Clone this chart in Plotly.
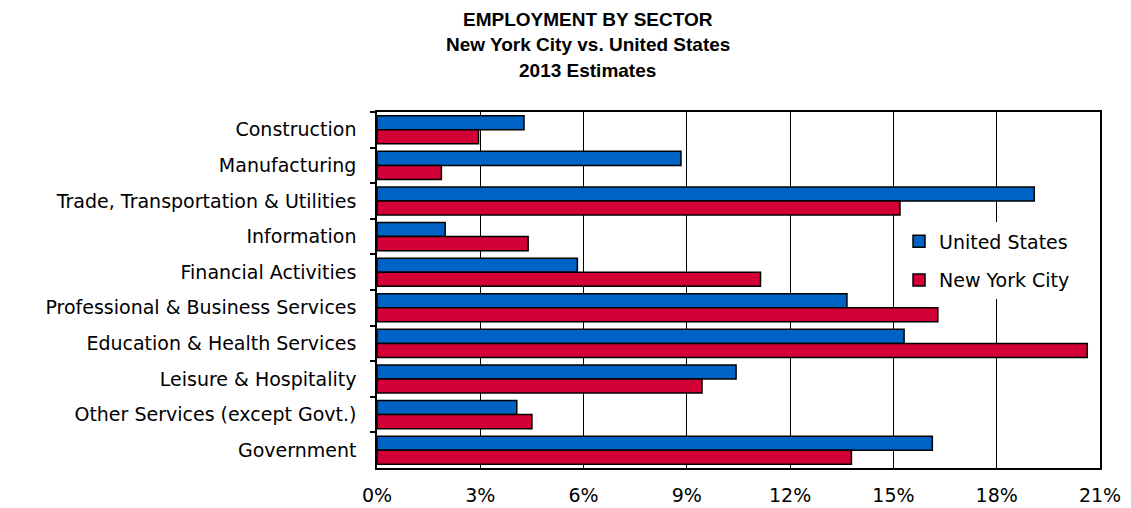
import plotly.graph_objects as go

categories = [
    "Construction",
    "Manufacturing",
    "Trade, Transportation & Utilities",
    "Information",
    "Financial Activities",
    "Professional & Business Services",
    "Education & Health Services",
    "Leisure & Hospitality",
    "Other Services (except Govt.)",
    "Government",
]
us_values = [4.27, 8.83, 19.09, 1.98, 5.82, 13.65, 15.31, 10.43, 4.06, 16.13]
nyc_values = [2.95, 1.87, 15.19, 4.39, 11.14, 16.29, 20.63, 9.44, 4.50, 13.78]
x_ticks = [0, 3, 6, 9, 12, 15, 18, 21]
x_tick_labels = [f"{t}%" for t in x_ticks]
title_lines = ["EMPLOYMENT BY SECTOR", "New York City vs. United States", "2013 Estimates"]

FONT = "DejaVu Sans"
TFONT = "Liberation Sans"

fig = go.Figure()
fig.add_trace(go.Bar(
    y=categories, x=us_values, orientation="h", name="United States",
    legendgroup="us",
    marker=dict(color="#0062C4", line=dict(color="#000000", width=1.5)),
))
fig.add_trace(go.Bar(
    y=categories, x=nyc_values, orientation="h", name="New York City",
    legendgroup="nyc",
    marker=dict(color="#D20034", line=dict(color="#000000", width=1.5)),
))

# Title as three annotation lines
title_y = [1.2921, 1.190, 1.116]
title_anchor = ["top", "middle", "middle"]
for line, yy, anc in zip(title_lines, title_y, title_anchor):
    fig.add_annotation(
        text=f"<b>{line}</b>", xref="paper", yref="paper",
        x=0.2918, y=yy, xanchor="center", yanchor=anc, borderpad=0,
        showarrow=False, font=dict(family=TFONT, size=19, color="#000000"),
    )

fig.update_layout(
    width=1123, height=500,
    margin=dict(l=369, r=31, t=104, b=40, autoexpand=False),
    paper_bgcolor="white", plot_bgcolor="white",
    barmode="group", bargap=0.21, bargroupgap=0.0,
    font=dict(family=FONT, size=19, color="#000000"),
    legend=dict(
        x=0.722, y=0.69, xanchor="left", yanchor="top",
        bgcolor="white", borderwidth=0,
        font=dict(family=FONT, size=19, color="#000000"),
        traceorder="grouped", tracegroupgap=11,
        itemwidth=30,
    ),
    xaxis=dict(
        range=[0, 21], tickvals=x_ticks, ticktext=x_tick_labels,
        showgrid=True, gridcolor="#000000", gridwidth=1.3,
        showline=True, linecolor="#000000", linewidth=1.5, mirror=True,
        ticks="", ticklabelstandoff=9, zeroline=False, automargin=False,
        tickfont=dict(family=FONT, size=19),
    ),
    yaxis=dict(
        autorange="reversed", automargin=False,
        showline=True, linecolor="#000000", linewidth=1.5, mirror=True,
        ticks="outside", tickson="boundaries", ticklen=5, tickcolor="#000000",
        tickwidth=1.5, showgrid=False, ticklabelstandoff=15,
        tickfont=dict(family=FONT, size=19),
    ),
)

fig.write_html("out.html")
